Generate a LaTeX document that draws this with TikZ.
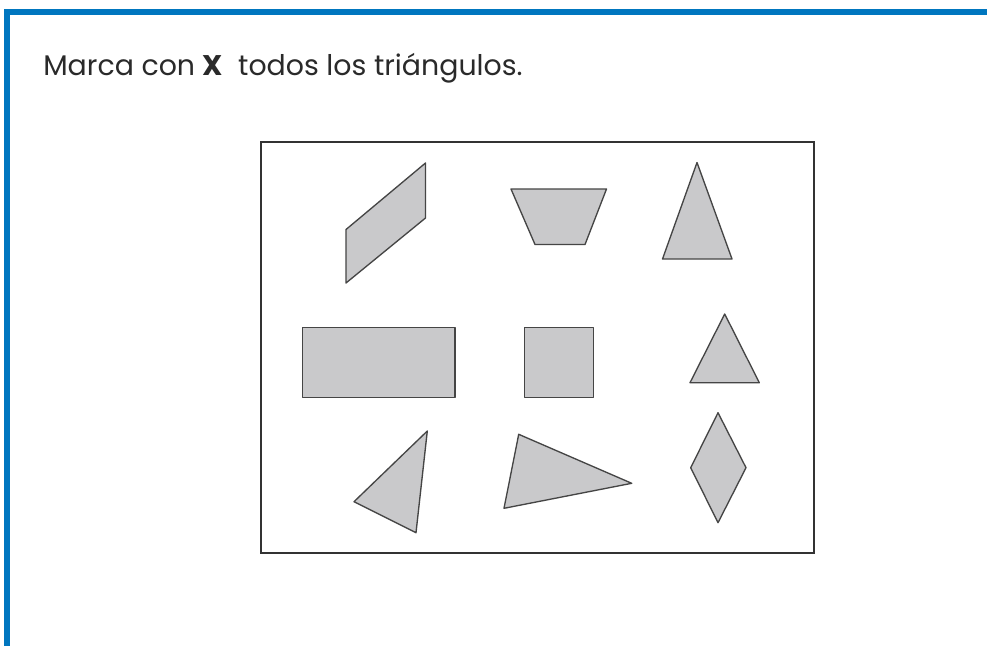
\documentclass[tikz,border=0pt]{standalone}
\usepackage{fontspec}
\setmainfont{Poppins}
\definecolor{bandblue}{HTML}{0076BF}
\definecolor{shapefill}{HTML}{C9C9CB}
\definecolor{shapeline}{HTML}{454545}
\definecolor{textgray}{HTML}{2A2A2A}
\begin{document}
\begin{tikzpicture}[x=0.75pt,y=-0.75pt,
  geoshape/.style={fill=shapefill,draw=shapeline,line width=1pt,line join=round},
  band/.style={fill=bandblue,draw=none}]
\useasboundingbox (0,0) rectangle (987,646);
\fill[white] (0,0) rectangle (987,646);
% blue frame
\path[band] (4,9) rectangle (987,15);
\path[band] (4,9) rectangle (10,646);
% title
\node[anchor=base west,inner sep=0pt,text=textgray,font=\fontsize{21.3pt}{25pt}\selectfont] (title) at (43,75) {Marca con \textbf{X}\ \ todos los triángulos.};
% inner frame
\draw[draw=black!80,line width=1.1pt] (261,142) rectangle (814,553);
% row 1
\draw[geoshape] (346,229.5) -- (425.5,163) -- (425.5,218) -- (346,283) -- cycle;
\draw[geoshape] (511,189) -- (606.5,189) -- (585,244.5) -- (535,244.5) -- cycle;
\draw[geoshape] (697,162.5) -- (732,259) -- (662.5,259) -- cycle;
% row 2
\draw[geoshape] (302.7,327.7) rectangle (455,397.3);
\draw[geoshape] (524.3,327.7) rectangle (593.3,397.3);
\draw[geoshape] (724.7,314) -- (759.3,382.7) -- (690,382.7) -- cycle;
% row 3
\draw[geoshape] (427.3,431) -- (416,532.7) -- (354,501.7) -- cycle;
\draw[geoshape] (518.7,434.3) -- (631.7,483.3) -- (504,508.3) -- cycle;
\draw[geoshape] (718,412.7) -- (746,467.7) -- (718,522.7) -- (690.7,467.7) -- cycle;
\end{tikzpicture}
\end{document}
